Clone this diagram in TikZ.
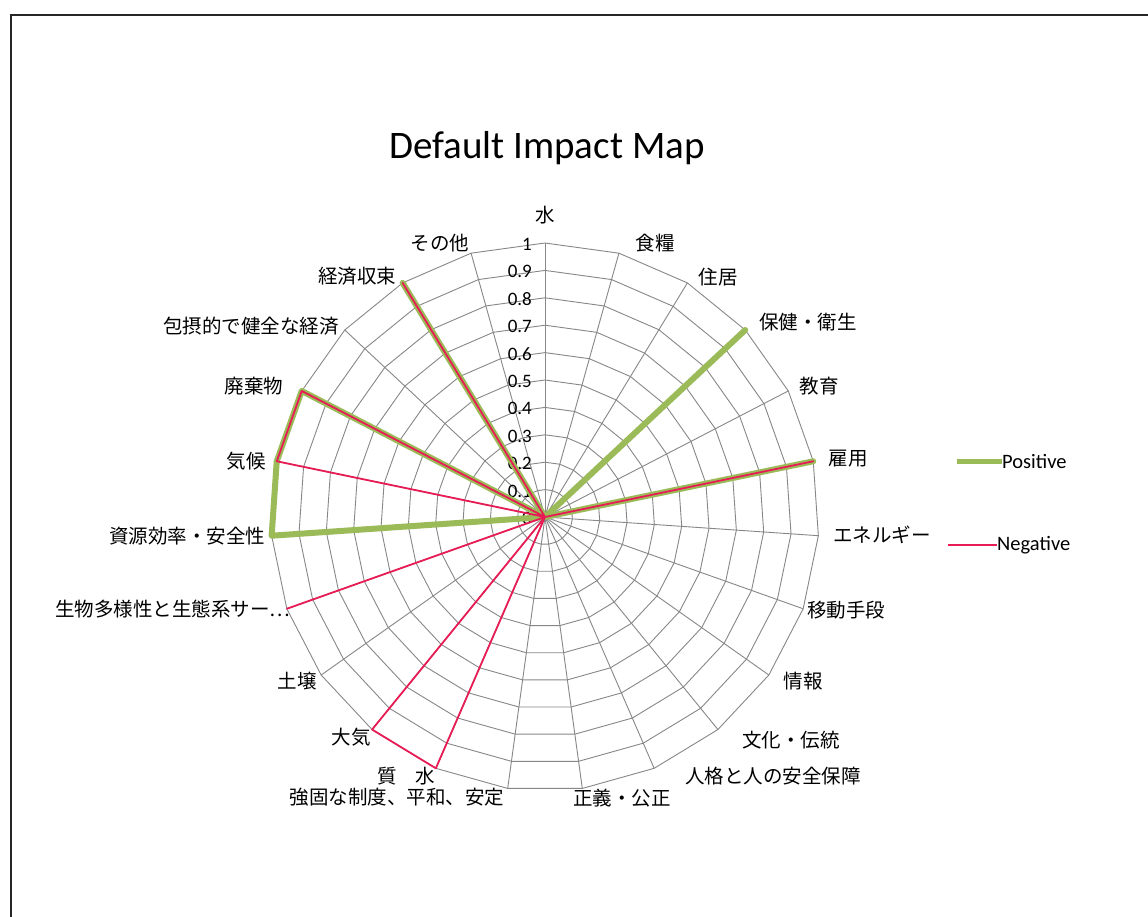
\documentclass[tikz,border=0pt]{standalone}
\usepackage{fontspec}
\setmainfont{Carlito}
\newfontfamily\jp{Noto Sans CJK JP}
\definecolor{gridgray}{RGB}{135,135,135}
\definecolor{posgreen}{RGB}{155,187,89}
\definecolor{negred}{RGB}{232,28,84}
\tikzset{
  gridline/.style={draw=gridgray, line width=0.9pt},
  posline/.style={draw=posgreen, line width=6pt, line join=round},
  negline/.style={draw=negred, line width=1.8pt, line join=round},
  cat/.style={font=\jp\fontsize{19.5}{21}\selectfont, inner sep=0pt},
  ticklabel/.style={font=\fontsize{19}{21}\selectfont, inner sep=0pt, anchor=east},
  legtext/.style={font=\fontsize{20.5}{22}\selectfont, inner sep=0pt, anchor=west},
}
\begin{document}
\begin{tikzpicture}[x=1pt,y=-1pt]
\useasboundingbox (0,0) rectangle (1148,916);
\fill[white] (0,0) rectangle (1148,916);
\draw[line width=2.2pt, black!85] (11,15) rectangle (1170,940);
\node[font=\fontsize{39}{44}\selectfont, inner sep=0pt] (title) at (547,148) {Default Impact Map};
\begin{scope}[shift={(545,517)}]
  \coordinate (c) at (0,0);
  % rings
  \foreach \k in {1,...,10}{
    \draw[gridline] (-90:\k*27.4) \foreach \i in {1,...,22}{ -- ({-90+\i*360/23}:\k*27.4)} -- cycle;
  }
  % spokes
  \foreach \i in {0,...,22}{
    \coordinate (s\i) at ({-90+\i*360/23}:274);
    \draw[gridline] (c) -- (s\i);
  }
  % tick labels
  \foreach \k/\lab in {0/0,1/0.1,2/0.2,3/0.3,4/0.4,5/0.5,6/0.6,7/0.7,8/0.8,9/0.9,10/1}{
    \node[ticklabel] (t\k) at (-13,-\k*27.4+1.5) {\lab};
  }
  % series
  \draw[posline] (c) \foreach \v [count=\i from 0] in {0,0,0,1,0,1,0,0,0,0,0,0,0,0,0,0,0,1,1,1,0,1,0}{ -- ({-90+\i*360/23}:\v*274)} -- cycle;
  \draw[negline] (c) \foreach \v [count=\i from 0] in {0,0,0,0,0,1,0,0,0,0,0,0,0,1,1,0,1,0,1,1,0,1,0}{ -- ({-90+\i*360/23}:\v*274)} -- cycle;
\end{scope}
% category labels
\node[cat] (l0) at (545,215) {水};
\node[cat] (l1) at (655,243) {食糧};
\node[cat] (l2) at (718,277) {住居};
\node[cat] (l3) at (808,322) {保健・衛生};
\node[cat] (l4) at (819,386) {教育};
\node[cat] (l5) at (848,459) {雇用};
\node[cat] (l6) at (882,535) {エネルギー};
\node[cat] (l7) at (846,610) {移動手段};
\node[cat] (l8) at (803,681) {情報};
\node[cat] (l9) at (791,740) {文化・伝統};
\node[cat] (l10) at (773,776) {人格と人の安全保障};
\node[cat] (l11) at (622,798) {正義・公正};
\node[cat] (l12) at (397,797) {強固な制度、平和、安定};
\node[cat] (l13) at (406,776) {質\hspace{18pt}水};
\node[cat] (l14) at (351,737) {大気};
\node[cat] (l15) at (297,681) {土壌};
\node[cat] (l16) at (173,609) {生物多様性と生態系サー…};
\node[cat] (l17) at (187,536) {資源効率・安全性};
\node[cat] (l18) at (246,461) {気候};
\node[cat] (l19) at (254,386) {廃棄物};
\node[cat] (l20) at (251,326) {包摂的で健全な経済};
\node[cat] (l21) at (357,276) {経済収束};
\node[cat] (l22) at (440,243) {その他};
% legend
\coordinate (pa) at (957,461);
\node[legtext] (pt) at (1002,461) {Positive};
\draw[draw=posgreen, line width=5pt] (pa) -- (pt.west);
\coordinate (na) at (948,545);
\node[legtext] (nt) at (997,545) {Negative};
\draw[draw=negred, line width=1.8pt] (na) -- (nt.west);
\end{tikzpicture}
\end{document}
